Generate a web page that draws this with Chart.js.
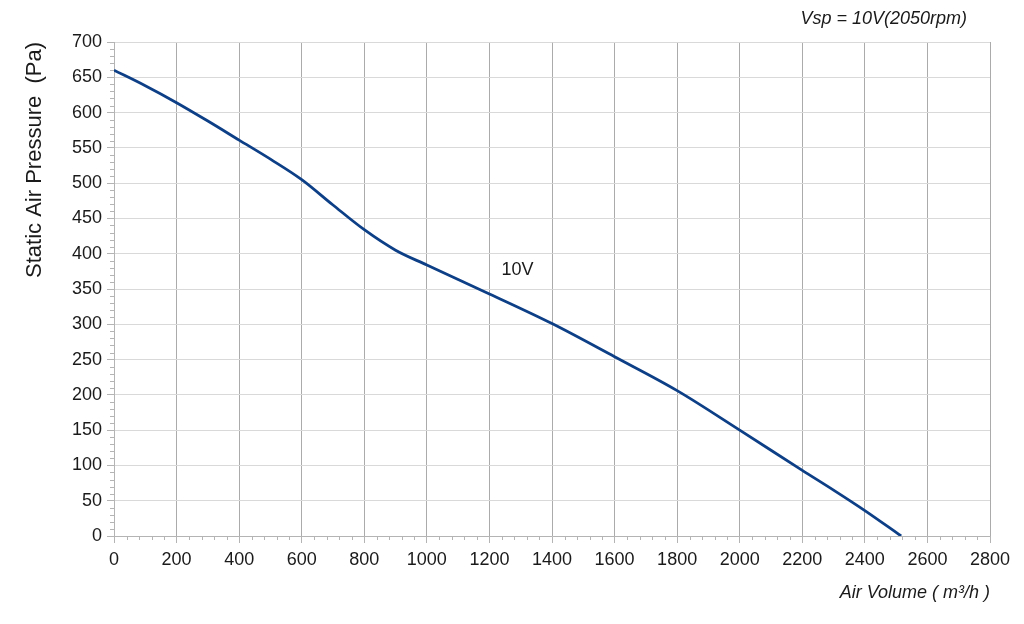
<!DOCTYPE html>
<html>
<head>
<meta charset="utf-8">
<script src="https://cdn.jsdelivr.net/npm/chart.js@4.4.1/dist/chart.umd.min.js"></script>
<style>
html,body{margin:0;padding:0;background:#fff;}
#wrap{width:1024px;height:624px;position:relative;}
</style>
</head>
<body>
<div id="wrap"><canvas id="c"></canvas></div>
<script>
// ---- data ----
const airVolume = [0, 100, 200, 300, 400, 500, 600, 700, 800, 900, 1000, 1200, 1400, 1600, 1800, 2000, 2200, 2300, 2400, 2516];
const pressure  = [660, 638, 614, 588, 561, 534, 505, 469, 434, 405, 384, 343, 301, 254, 206, 150, 93, 65, 36, 0];
const seriesLabel = '10V';
const labelPos = {x: 1290, y: 377};
const xTicks = [0,200,400,600,800,1000,1200,1400,1600,1800,2000,2200,2400,2600,2800];
const yTicks = [0,50,100,150,200,250,300,350,400,450,500,550,600,650,700];
const topTitle = 'Vsp = 10V(2050rpm)';
const xTitle = 'Air Volume ( m³/h )';
const yTitle = 'Static Air Pressure  (Pa)';

const FONT = '"Liberation Sans", Arial, sans-serif';

const extras = {
  id: 'extras',
  afterDraw(chart) {
    const ctx = chart.ctx;
    const xs = chart.scales.x, ys = chart.scales.y;
    const a = chart.chartArea;
    ctx.save();
    ctx.strokeStyle = '#b4b4b4';
    ctx.lineWidth = 1;
    // minor ticks
    for (let v = 0; v <= 2800; v += 40) {
      if (v % 200 === 0) continue;
      const px = Math.round(xs.getPixelForValue(v)) + 0.5;
      ctx.beginPath(); ctx.moveTo(px, a.bottom); ctx.lineTo(px, a.bottom + 4); ctx.stroke();
    }
    for (let v = 0; v <= 700; v += 10) {
      if (v % 50 === 0) continue;
      const py = Math.round(ys.getPixelForValue(v)) + 0.5;
      ctx.beginPath(); ctx.moveTo(a.left - 4, py); ctx.lineTo(a.left, py); ctx.stroke();
    }
    // series label
    ctx.fillStyle = '#1a1a1a';
    ctx.font = '18px ' + FONT;
    ctx.textAlign = 'center';
    ctx.textBaseline = 'middle';
    ctx.fillText(seriesLabel, xs.getPixelForValue(labelPos.x), ys.getPixelForValue(labelPos.y));
    // top title
    ctx.font = 'italic 18px ' + FONT;
    ctx.textAlign = 'right';
    ctx.fillText(topTitle, 967, 19);
    ctx.restore();
  }
};

new Chart(document.getElementById('c'), {
  type: 'line',
  data: {
    datasets: [{
      label: seriesLabel,
      data: airVolume.map((x, i) => ({x, y: pressure[i]})),
      borderColor: '#0d3f87',
      borderWidth: 2.8,
      pointRadius: 0,
      fill: false,
      cubicInterpolationMode: 'monotone'
    }]
  },
  options: {
    responsive: true,
    maintainAspectRatio: false,
    animation: false,
    devicePixelRatio: 1,
    layout: {padding: {left: 0, right: 34, top: 42, bottom: 0}},
    plugins: {legend: {display: false}, tooltip: {enabled: false}, title: {display: false}},
    scales: {
      x: {
        type: 'linear', min: 0, max: 2800,
        afterBuildTicks: s => { s.ticks = xTicks.map(v => ({value: v})); },
        afterFit: s => { s.height = 88; },
        ticks: {font: {size: 18, family: FONT}, color: '#1a1a1a', padding: 6, maxRotation: 0, autoSkip: false,
                callback: v => String(v)},
        grid: {color: '#ababab', lineWidth: 1, tickLength: 7, tickColor: '#b4b4b4'},
        border: {color: '#b4b4b4'},
        title: {display: true, text: xTitle, align: 'end', color: '#1a1a1a',
                font: {size: 18, style: 'italic', family: FONT}, padding: {top: 4, bottom: 20}}
      },
      y: {
        type: 'linear', min: 0, max: 700,
        afterBuildTicks: s => { s.ticks = yTicks.map(v => ({value: v})); },
        afterFit: s => { s.width = 114; },
        ticks: {font: {size: 18, family: FONT}, color: '#1a1a1a', padding: 5, autoSkip: false,
                callback: v => String(v)},
        grid: {color: '#d9d9d9', lineWidth: 1, tickLength: 7, tickColor: '#b4b4b4'},
        border: {color: '#b4b4b4'},
        title: {display: true, text: yTitle, align: 'end', color: '#1a1a1a',
                font: {size: 22, family: FONT}, padding: {top: 22, bottom: 4}}
      }
    }
  },
  plugins: [extras]
});
</script>
</body>
</html>
